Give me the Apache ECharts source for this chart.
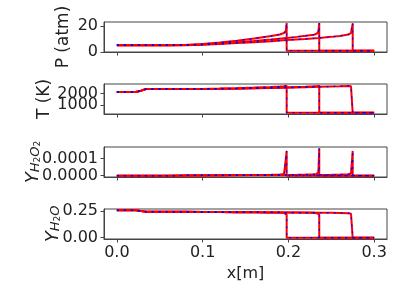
<!DOCTYPE html>
<html><head><meta charset="utf-8">
<script src="https://cdn.jsdelivr.net/npm/echarts@6/dist/echarts.min.js"></script>
<style>html,body{margin:0;padding:0;background:#fff}#c{width:407px;height:305px}</style>
</head><body><div id="c"></div>
<script>
// x grids for the three snapshots (shock at 0.198, 0.236, 0.275)
var xA = [0, 0.022, 0.028, 0.034, 0.06, 0.08, 0.1, 0.12, 0.14, 0.16, 0.18, 0.19, 0.195, 0.197, 0.198, 0.198, 0.2, 0.3];
var xB = [0, 0.022, 0.028, 0.034, 0.06, 0.08, 0.1, 0.12, 0.14, 0.16, 0.18, 0.198, 0.21, 0.22, 0.23, 0.233, 0.235, 0.236, 0.236, 0.25, 0.3];
var xC = [0, 0.022, 0.028, 0.034, 0.06, 0.08, 0.1, 0.12, 0.14, 0.16, 0.18, 0.198, 0.22, 0.236, 0.25, 0.26, 0.27, 0.273, 0.275, 0.275, 0.3];

// Pressure (atm)
var pA = [5.2, 5.2, 5.2, 5.2, 5.2, 5.4, 6.1, 7.3, 8.7, 10.3, 12.2, 13.4, 14.6, 16.2, 22.2, 1.0, 1.0, 1.0];
var pB = [5.2, 5.2, 5.2, 5.2, 5.2, 5.3, 5.8, 6.6, 7.5, 8.5, 9.6, 10.7, 11.6, 12.4, 13.3, 14.0, 15.6, 22.2, 1.0, 1.0, 1.0];
var pC = [5.2, 5.2, 5.2, 5.2, 5.2, 5.2, 5.5, 6.1, 6.8, 7.5, 8.3, 9.1, 10.0, 10.8, 11.6, 12.3, 13.4, 14.6, 22.0, 1.0, 1.0];

// Temperature (K)
var tA = [2150, 2160, 2260, 2420, 2420, 2420, 2430, 2460, 2500, 2550, 2610, 2650, 2680, 2700, 2720, 300, 300, 300];
var tB = [2150, 2160, 2260, 2420, 2420, 2420, 2425, 2445, 2470, 2500, 2540, 2580, 2610, 2630, 2660, 2680, 2700, 2720, 300, 300, 300];
var tC = [2150, 2160, 2260, 2420, 2420, 2420, 2420, 2435, 2455, 2480, 2510, 2540, 2580, 2620, 2650, 2670, 2700, 2680, 2550, 300, 300];

// Mass fraction H2O2
var hA = [0, 0, 0, 0, 0, 0.000001, 0.000002, 0.000002, 0.000003, 0.000004, 0.000005, 0.000007, 0.000009, 0.00002, 0.000145, 0, 0, 0];
var hB = [0, 0, 0, 0, 0, 0.000001, 0.000001, 0.000002, 0.000002, 0.000003, 0.000004, 0.000004, 0.000005, 0.000006, 0.000008, 0.00001, 0.000022, 0.00016, 0, 0, 0];
var hC = [0, 0, 0, 0, 0, 0.000001, 0.000001, 0.000001, 0.000002, 0.000002, 0.000003, 0.000003, 0.000004, 0.000004, 0.000005, 0.000006, 0.000008, 0.000012, 0.000145, 0, 0];

// Mass fraction H2O
var wA = [0.255, 0.255, 0.25, 0.243, 0.242, 0.241, 0.24, 0.239, 0.238, 0.237, 0.236, 0.235, 0.232, 0.226, 0.215, 0, 0, 0];
var wB = [0.255, 0.255, 0.25, 0.243, 0.242, 0.241, 0.24, 0.239, 0.238, 0.237, 0.236, 0.235, 0.234, 0.233, 0.232, 0.229, 0.224, 0.215, 0, 0, 0];
var wC = [0.255, 0.255, 0.25, 0.243, 0.242, 0.241, 0.24, 0.239, 0.238, 0.237, 0.236, 0.235, 0.234, 0.233, 0.232, 0.231, 0.229, 0.224, 0.212, 0, 0];

var xTicks = [0, 0.1, 0.2, 0.3];
var xTickLabels = ['0.0', '0.1', '0.2', '0.3'];
var pTicks = [0, 20], pTickLabels = ['0', '20'];
var tTicks = [1000, 2000], tTickLabels = ['1000', '2000'];
var hTicks = [0, 0.0001], hTickLabels = ['0.0000', '0.0001'];
var wTicks = [0, 0.25], wTickLabels = ['0.00', '0.25'];
var yNames = ['P (atm)', 'T (K)', '{y|Y}{s|H}{ss|2}{s|O}{ss|2}', '{y|Y}{s|H}{ss|2}{s|O}'];

var FONT = 'DejaVu Sans';
var AX = '#444';
function zip(xs, ys) { return xs.map(function (x, i) { return [x, ys[i]]; }); }

var tops = [22, 84, 147, 209];
var grids = tops.map(function (t) {
  return { left: 104, width: 283, top: t, height: 30, show: true, borderColor: AX, borderWidth: 1, backgroundColor: 'transparent', containLabel: false, outerBoundsMode: 'none' };
});

function fmt(ticks, labels) { return function (v) { for (var i = 0; i < ticks.length; i++) if (Math.abs(v - ticks[i]) < 1e-12) return labels[i]; return ''; }; }

var xAxes = [0, 1, 2, 3].map(function (i) {
  return {
    type: 'value', gridIndex: i, min: -0.015, max: 0.315,
    axisLine: { show: true, onZero: false, lineStyle: { color: AX, width: 1 } },
    axisTick: { show: true, length: 3.5, customValues: xTicks, lineStyle: { color: AX } },
    axisLabel: { show: i === 3, customValues: xTicks, interval: 0, hideOverlap: false, formatter: fmt(xTicks, xTickLabels), fontFamily: FONT, fontSize: 16, color: '#222', margin: 6 },
    splitLine: { show: false },
    name: i === 3 ? 'x[m]' : '', nameLocation: 'middle', nameGap: 27,
    nameTextStyle: { fontFamily: FONT, fontSize: 16, color: '#222' }
  };
});

var ySpecs = [
  { grid: 0, min: -0.05, max: 23.05, ticks: pTicks, labels: pTickLabels },
  { grid: 1, min: 177.5, max: 2872.5, ticks: [tTicks[0]], labels: [tTickLabels[0]] },
  { grid: 2, min: -0.000008, max: 0.000168, ticks: hTicks, labels: hTickLabels },
  { grid: 3, min: -0.01275, max: 0.2678, ticks: wTicks, labels: wTickLabels },
  // second left axis on the T panel carrying the overlapping 2000 label
  { grid: 1, min: 177.5, max: 2872.5, ticks: [tTicks[1]], labels: [tTickLabels[1]] }
];
var yAxes = ySpecs.map(function (s, i) {
  return {
    type: 'value', gridIndex: s.grid, min: s.min, max: s.max, position: 'left', offset: 0,
    axisLine: { show: i < 4, onZero: false, lineStyle: { color: AX, width: 1 } },
    axisTick: { show: true, length: 3.5, customValues: s.ticks, lineStyle: { color: AX } },
    axisLabel: { show: true, customValues: s.ticks, interval: 0, hideOverlap: false, formatter: fmt(s.ticks, s.labels), fontFamily: FONT, fontSize: 16, color: '#222', margin: 6 },
    splitLine: { show: false }
  };
});

var nameCenters = [[64, 37], [45, 99], [30, 162], [50, 224]];
var rich = {
  y: { fontFamily: FONT, fontSize: 18, fontStyle: 'italic', fill: '#222', verticalAlign: 'bottom', lineHeight: 24 },
  s: { fontFamily: FONT, fontSize: 13, fontStyle: 'italic', fill: '#222', verticalAlign: 'bottom', lineHeight: 18 },
  ss: { fontFamily: FONT, fontSize: 9, fill: '#222', verticalAlign: 'bottom', lineHeight: 12 }
};
var graphics = yNames.map(function (n, i) {
  return { type: 'text', x: nameCenters[i][0], y: nameCenters[i][1], rotation: Math.PI / 2, silent: true,
    style: { text: n, fontFamily: FONT, fontSize: 17, fill: '#222', align: 'center', verticalAlign: 'middle', rich: rich } };
});

var panels = [[pA, pB, pC], [tA, tB, tC], [hA, hB, hC], [wA, wB, wC]];
var xs = [xA, xB, xC];
var series = [];
panels.forEach(function (ysets, gi) {
  ysets.forEach(function (ys, k) {
    series.push({ type: 'line', xAxisIndex: gi, yAxisIndex: gi, data: zip(xs[k], ys), showSymbol: false, symbol: 'none',
      lineStyle: { color: '#ff0000', width: 2 }, z: 2, silent: true });
  });
  ysets.forEach(function (ys, k) {
    series.push({ type: 'line', xAxisIndex: gi, yAxisIndex: gi, data: zip(xs[k], ys), showSymbol: false, symbol: 'none',
      lineStyle: { color: '#0000ff', width: 1.2, type: [2, 5] }, z: 3, silent: true });
  });
});

var chart = echarts.init(document.getElementById('c'), null, { renderer: 'canvas' });
chart.setOption({ animation: false, grid: grids, xAxis: xAxes, yAxis: yAxes, series: series, graphic: graphics });
</script></body></html>
